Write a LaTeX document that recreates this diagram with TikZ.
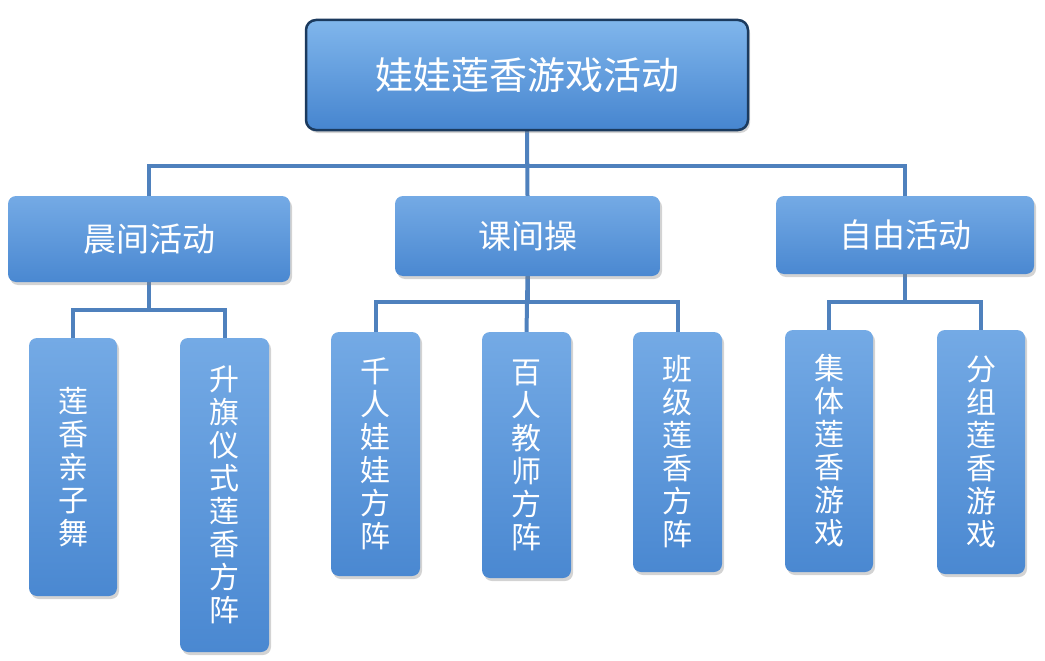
\documentclass[tikz,border=0pt]{standalone}
\usepackage{fontspec}
\newfontfamily\cjk{Noto Sans CJK SC}
\usetikzlibrary{shadows,backgrounds}
\definecolor{linec}{HTML}{4F81BD}
\definecolor{boxtop}{HTML}{74AAE5}
\definecolor{boxbot}{HTML}{4A88D1}
\definecolor{topline}{HTML}{1B3A5E}
\definecolor{toptop}{HTML}{80B6EC}
\definecolor{topbot}{HTML}{4685CF}
\tikzset{
  box/.style={rounded corners=8pt, top color=boxtop, bottom color=boxbot,
    text=white, inner sep=0pt,
    drop shadow={opacity=0.35, shadow xshift=2pt, shadow yshift=-3pt}},
  topbox/.style={box, top color=toptop, bottom color=topbot, draw=topline,
    line width=2.5pt, rounded corners=10pt, font=\cjk\fontsize{38}{40}\selectfont},
  midbox/.style={box, font=\cjk\fontsize{33}{35}\selectfont},
  leaf/.style={box, align=center, font=\cjk\fontsize{30}{33}\selectfont},
  conn/.style={draw=linec, line width=4pt}
}
\begin{document}
\begin{tikzpicture}[x=1pt,y=-1pt]
\useasboundingbox (0,0) rectangle (1045,661);
\node[topbox, minimum width=442pt, minimum height=110pt] (top) at (527,75) {娃娃莲香游戏活动};
\node[midbox, minimum width=282pt, minimum height=86pt] (m1) at (149,239) {晨间活动};
\node[midbox, minimum width=265pt, minimum height=80pt] (m2) at (527.5,236) {课间操};
\node[midbox, minimum width=258pt, minimum height=78pt] (m3) at (905,235) {自由活动};
\node[leaf, minimum width=88pt, minimum height=258pt] (l1) at (73,467) {莲\\香\\亲\\子\\舞};
\node[leaf, minimum width=89pt, minimum height=314pt] (l2) at (224.5,495) {升\\旗\\仪\\式\\莲\\香\\方\\阵};
\node[leaf, minimum width=89pt, minimum height=244pt] (l3) at (375.5,454) {千\\人\\娃\\娃\\方\\阵};
\node[leaf, minimum width=89pt, minimum height=246pt] (l4) at (526.5,455) {百\\人\\教\\师\\方\\阵};
\node[leaf, minimum width=89pt, minimum height=240pt] (l5) at (677.5,452) {班\\级\\莲\\香\\方\\阵};
\node[leaf, minimum width=88pt, minimum height=242pt] (l6) at (829,451) {集\\体\\莲\\香\\游\\戏};
\node[leaf, minimum width=88pt, minimum height=244pt] (l7) at (981,452) {分\\组\\莲\\香\\游\\戏};
\begin{scope}[on background layer]
\draw[conn] (top.south) -- ++(0,35) -| (m1.north);
\draw[conn] (top.south) -- ++(0,35) -| (m3.north);
\draw[conn] (top.south) -- (m2.north);
\draw[conn] (m1.south) -- ++(0,28) -| (l1.north);
\draw[conn] (m1.south) -- ++(0,28) -| (l2.north);
\draw[conn] (m2.south) -- ++(0,26) -| (l3.north);
\draw[conn] (m2.south) -- ++(0,26) -| (l5.north);
\draw[conn] (m2.south) -- (l4.north);
\draw[conn] (m3.south) -- ++(0,28) -| (l6.north);
\draw[conn] (m3.south) -- ++(0,28) -| (l7.north);
\end{scope}
\end{tikzpicture}
\end{document}
